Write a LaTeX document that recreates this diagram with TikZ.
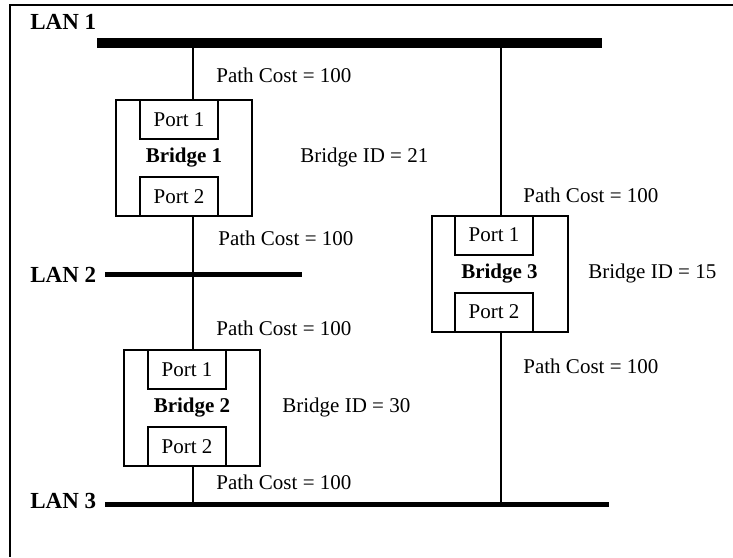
\documentclass[tikz,border=0pt]{standalone}
\usepackage{fontspec}
\setmainfont{Liberation Serif}
\usetikzlibrary{positioning}

\begin{document}
\begin{tikzpicture}[
            x=0.5pt, y=-0.5pt,
            bridge/.style={draw, line width=1pt, minimum width=68pt, minimum height=58pt, inner sep=0pt, font=\fontsize{10.5}{12}\selectfont\bfseries},
            port/.style={draw, line width=1pt, minimum width=39pt, minimum height=19.5pt, inner sep=0pt, anchor=#1, font=\fontsize{10.5}{12}\selectfont},
            lbl/.style={inner sep=0pt, anchor=west, font=\fontsize{10.5}{12}\selectfont},
            lanlbl/.style={inner sep=0pt, anchor=west, font=\fontsize{11.5}{13}\selectfont\bfseries},
            link/.style={line width=1pt}
        ]
          \useasboundingbox (0,0) rectangle (733,557);
          \draw[line width=1pt] (733,5) -| (10,557);
          % LAN segments
          \node[lanlbl] (lan1) at (30,22) {LAN 1};
          \node[lanlbl] (lan2) at (30,275) {LAN 2};
          \node[lanlbl] (lan3) at (30,501) {LAN 3};
          \coordinate (lan1w) at (97,43);  \coordinate (lan1e) at (602,43);
          \coordinate (lan2w) at (105,274.5); \coordinate (lan2e) at (302,274.5);
          \coordinate (lan3w) at (105,504.5); \coordinate (lan3e) at (609,504.5);
          \draw[line width=5pt] (lan1w) -- (lan1e);
          \draw[line width=2.5pt] (lan2w) -- (lan2e);
          \draw[line width=2.5pt] (lan3w) -- (lan3e);
          \coordinate (tapA) at (193,43);
          \coordinate (tapB) at (501,43);
          % bridges
          \node[bridge] (br1) at (184,158) {Bridge 1};
          \node[port=north] (b1p1) at ([xshift=-2.5pt]br1.north) {Port 1};
          \node[port=south] (b1p2) at ([xshift=-2.5pt]br1.south) {Port 2};
          \node[bridge] (br2) at (192,408) {Bridge 2};
          \node[port=north] (b2p1) at ([xshift=-2.5pt]br2.north) {Port 1};
          \node[port=south] (b2p2) at ([xshift=-2.5pt]br2.south) {Port 2};
          \node[bridge] (br3) at (499.5,273.5) {Bridge 3};
          \node[port=north] (b3p1) at ([xshift=-2.75pt]br3.north) {Port 1};
          \node[port=south] (b3p2) at ([xshift=-2.75pt]br3.south) {Port 2};
          % links
          \draw[link] (tapA) -- (tapA |- br1.north);
          \draw[link] (br1.south -| tapA) -- (tapA |- lan2w);
          \draw[link] (tapA |- lan2w) -- (tapA |- br2.north);
          \draw[link] (br2.south -| tapA) -- (tapA |- lan3w);
          \draw[link] (tapB) -- (tapB |- br3.north);
          \draw[link] (br3.south -| tapB) -- (tapB |- lan3w);
          % labels
          \node[lbl] (pc11) at (216,75) {Path Cost = 100};
          \node[lbl] (pc12) at (218,238) {Path Cost = 100};
          \node[lbl] (pc21) at (216,328) {Path Cost = 100};
          \node[lbl] (pc22) at (216,482) {Path Cost = 100};
          \node[lbl] (pc31) at (523,195) {Path Cost = 100};
          \node[lbl] (pc32) at (523,366) {Path Cost = 100};
          \node[lbl] (id1) at (300,157) {Bridge ID = 21};
          \node[lbl] (id2) at (282,407) {Bridge ID = 30};
          \node[lbl] (id3) at (588,273) {Bridge ID = 15};
        \end{tikzpicture}
\end{document}
